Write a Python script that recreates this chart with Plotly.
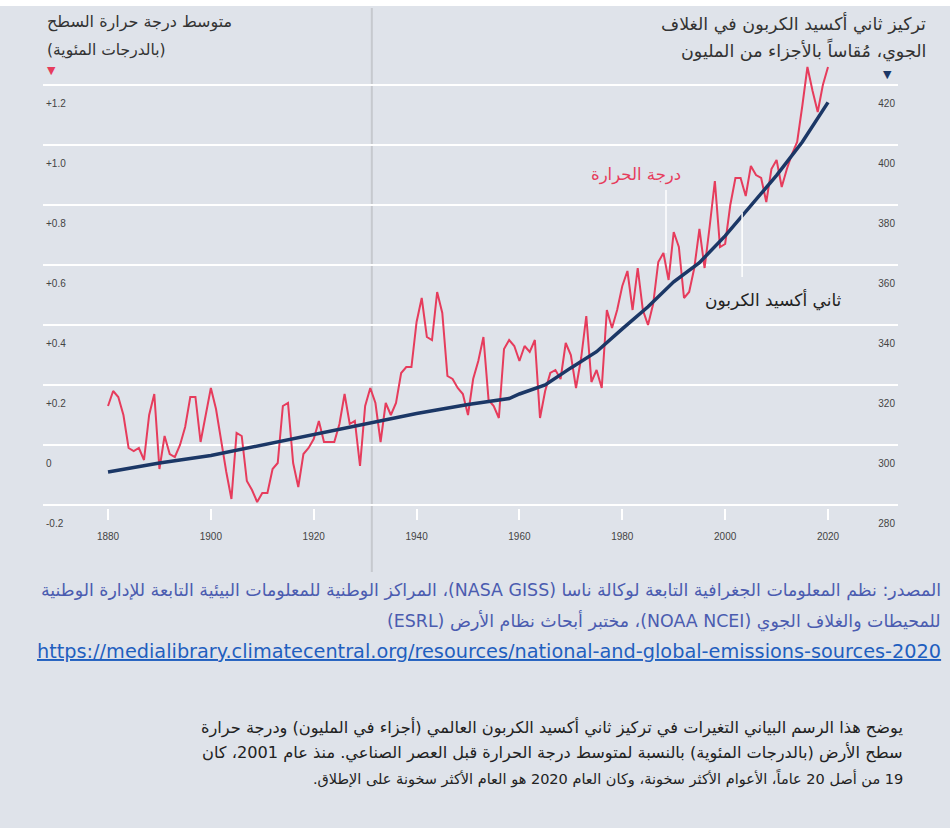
import plotly.graph_objects as go

# --- data ---
years = list(range(1880, 2021))
temp_anomaly = [
    0.13, 0.18, 0.16, 0.10, -0.01, -0.02, -0.01, -0.05, 0.10, 0.17,   # 1880s
    -0.08, 0.03, -0.03, -0.04, 0.00, 0.06, 0.16, 0.16, 0.01, 0.10,    # 1890s
    0.19, 0.12, 0.01, -0.09, -0.18, 0.04, 0.03, -0.12, -0.15, -0.19,  # 1900s
    -0.16, -0.16, -0.08, -0.06, 0.13, 0.14, -0.06, -0.14, -0.03, -0.01,  # 1910s
    0.02, 0.08, 0.01, 0.01, 0.01, 0.07, 0.17, 0.07, 0.08, -0.07,      # 1920s
    0.13, 0.19, 0.14, 0.01, 0.14, 0.10, 0.14, 0.24, 0.26, 0.26,       # 1930s
    0.41, 0.49, 0.36, 0.35, 0.51, 0.44, 0.23, 0.22, 0.19, 0.17,       # 1940s
    0.10, 0.22, 0.28, 0.36, 0.15, 0.13, 0.09, 0.32, 0.35, 0.33,       # 1950s
    0.28, 0.33, 0.31, 0.35, 0.09, 0.18, 0.24, 0.25, 0.22, 0.34,       # 1960s
    0.30, 0.19, 0.29, 0.43, 0.21, 0.25, 0.19, 0.45, 0.39, 0.45,       # 1970s
    0.53, 0.58, 0.45, 0.59, 0.45, 0.40, 0.47, 0.61, 0.64, 0.55,       # 1980s
    0.71, 0.66, 0.49, 0.51, 0.59, 0.72, 0.59, 0.73, 0.88, 0.66,       # 1990s
    0.67, 0.80, 0.89, 0.89, 0.83, 0.93, 0.90, 0.89, 0.81, 0.92,       # 2000s
    0.95, 0.86, 0.92, 0.97, 1.01, 1.13, 1.26, 1.18, 1.11, 1.20,       # 2010s
    1.26,                                                             # 2020
]

co2_years = [1880, 1890, 1900, 1910, 1920, 1930, 1940, 1950, 1958, 1960, 1965,
             1970, 1975, 1980, 1985, 1990, 1995, 2000, 2005, 2010, 2015, 2020]
co2_ppm = [291.0, 294.0, 296.5, 300.0, 303.5, 307.0, 310.5, 313.5, 315.5, 317.0, 320.0,
           325.7, 331.1, 338.7, 346.1, 354.4, 360.8, 369.7, 379.8, 389.9, 401.0, 414.2]

temp_ticks = [-0.2, 0, 0.2, 0.4, 0.6, 0.8, 1.0, 1.2]
temp_ticktext = ["-0.2", "0", "+0.2", "+0.4", "+0.6", "+0.8", "+1.0", "+1.2"]
co2_ticks = [280, 300, 320, 340, 360, 380, 400, 420]
year_ticks = [1880, 1900, 1920, 1940, 1960, 1980, 2000, 2020]

RED = "#e63c5c"
BLUE = "#1b3766"
BG = "#dfe3ea"
ARABIC = "DejaVu Sans"

# plot area in page pixels
L, R, T, B = 43, 898, 55, 508


def px(x):
    return (x - L) / (R - L)


def py(y):
    return (B - y) / (B - T)


def rtl(s):
    """Арабская строка в RTL-вложении, чтобы цифры и латиница встали на место."""
    return "\u202b" + s + "\u202c"


fig = go.Figure()
fig.add_trace(go.Scatter(
    x=co2_years, y=co2_ppm, yaxis="y2", mode="lines",
    line={"color": BLUE, "width": 3.5}, hoverinfo="skip",
))
fig.add_trace(go.Scatter(
    x=years, y=temp_anomaly, mode="lines",
    line={"color": RED, "width": 2}, hoverinfo="skip",
))

tick_font = {"family": "Liberation Sans", "size": 10, "color": "#444"}
fig.update_layout(
    width=950, height=828,
    margin={"l": L, "r": 950 - R, "t": T, "b": 828 - B},
    paper_bgcolor=BG, plot_bgcolor=BG,
    showlegend=False,
    xaxis={
        "range": [1867.36, 2033.61], "tickvals": year_ticks,
        "showgrid": False, "zeroline": False, "showline": False,
        "ticks": "outside", "ticklen": 11, "tickwidth": 2, "tickcolor": "white",
        "ticklabelstandoff": 8, "tickfont": tick_font,
    },
    yaxis={
        "range": [-0.21, 1.30], "tickvals": temp_ticks, "ticktext": temp_ticktext,
        "showgrid": True, "gridcolor": "white", "gridwidth": 2, "zeroline": False,
        "ticklabelposition": "inside", "ticklabelshift": 18, "ticklabeloverflow": "allow",
        "tickfont": tick_font,
    },
    yaxis2={
        "range": [279, 430], "tickvals": co2_ticks, "overlaying": "y", "side": "right",
        "showgrid": False, "zeroline": False,
        "ticklabelposition": "inside", "ticklabelshift": 18, "ticklabeloverflow": "allow",
        "tickfont": tick_font,
    },
)

# white strip at the very top and grey divider
fig.add_shape(type="rect", xref="paper", yref="paper", x0=px(0), x1=px(950),
              y0=py(6), y1=py(0), fillcolor="white", line={"width": 0}, layer="below")
fig.add_shape(type="line", xref="x", yref="paper", x0=1931.3, x1=1931.3,
              y0=py(572), y1=py(8), line={"color": "#c6c9ce", "width": 2}, layer="below")
# leader lines of the labels
fig.add_shape(type="line", xref="x", yref="y", x0=1988.5, x1=1988.5, y0=0.64, y1=0.85,
              line={"color": "white", "width": 1.5})
fig.add_shape(type="line", xref="x", yref="y", x0=2003.3, x1=2003.3, y0=0.56, y1=0.775,
              line={"color": "white", "width": 1.5})


def note(text, x, y, size, color="#333", xanchor="left", family=ARABIC):
    fig.add_annotation(text=text, xref="paper", yref="paper", x=px(x), y=py(y),
                       xanchor=xanchor, yanchor="middle", showarrow=False,
                       font={"family": family, "size": size, "color": color})


# axis titles
note(rtl("متوسط درجة حرارة السطح"), 45, 22, 16)
note(rtl("(بالدرجات المئوية)"), 45, 50, 15.5)
note("▼", 45, 71, 11, RED)
note(rtl("تركيز ثاني أكسيد الكربون في الغلاف"), 928, 23, 17.5, xanchor="right")
note(rtl("الجوي، مُقاساً بالأجزاء من المليون"), 928, 50, 17.5, xanchor="right")
note("▼", 881, 74, 11, BLUE)

# line labels
note(rtl("درجة الحرارة"), 683, 175, 16.5, RED, xanchor="right")
note(rtl("ثاني أكسيد الكربون"), 703, 300, 17, "#222")

# source
SRC = "#4b5cb0"
note(rtl("المصدر: نظم المعلومات الجغرافية التابعة لوكالة ناسا (NASA GISS)، المراكز الوطنية للمعلومات البيئية التابعة للإدارة الوطنية"),
     943, 590, 17.4, SRC, xanchor="right")
note(rtl("للمحيطات والغلاف الجوي (NOAA NCEI)، مختبر أبحاث نظام الأرض (ESRL)"),
     943, 621, 17.4, SRC, xanchor="right")
note("<u>https://medialibrary.climatecentral.org/resources/national-and-global-emissions-sources-2020</u>",
     35, 651, 19.3, "#1f5fbf", family="DejaVu Sans")

# caption, right-aligned like an RTL paragraph
note(rtl("يوضح هذا الرسم البياني التغيرات في تركيز ثاني أكسيد الكربون العالمي (أجزاء في المليون) ودرجة حرارة"),
     905, 727, 16.2, "#222", xanchor="right")
note(rtl("سطح الأرض (بالدرجات المئوية) بالنسبة لمتوسط درجة الحرارة قبل العصر الصناعي. منذ عام 2001، كان"),
     905, 752, 16.2, "#222", xanchor="right")
note(rtl("19 من أصل 20 عاماً، الأعوام الأكثر سخونة، وكان العام 2020 هو العام الأكثر سخونة على الإطلاق."),
     905, 778, 14.5, "#222", xanchor="right")

fig.write_html("out.html", config={"displayModeBar": False},
               post_script="document.body.style.margin='0';")
